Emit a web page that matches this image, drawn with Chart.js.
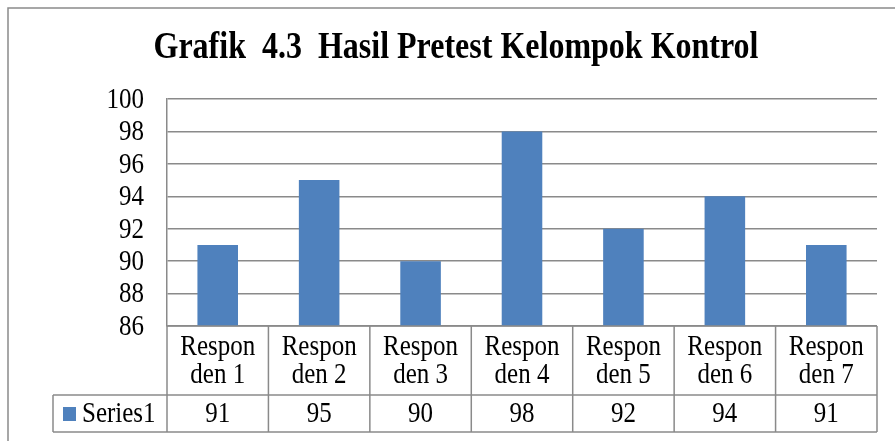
<!DOCTYPE html>
<html>
<head>
<meta charset="utf-8">
<script src="https://cdn.jsdelivr.net/npm/chart.js@4/dist/chart.umd.min.js"></script>
<style>
  html, body { margin: 0; padding: 0; background: #fff; }
  #wrap { width: 895px; height: 441px; position: relative; }
</style>
</head>
<body>
<div id="wrap"><canvas id="chart" width="895" height="441"></canvas></div>
<script>
// data
const categories = [['Respon', 'den 1'], ['Respon', 'den 2'], ['Respon', 'den 3'], ['Respon', 'den 4'], ['Respon', 'den 5'], ['Respon', 'den 6'], ['Respon', 'den 7']]
const series1 = [91, 95, 90, 98, 92, 94, 91]
const seriesName = 'Series1'
const yTicks = [86, 88, 90, 92, 94, 96, 98, 100]
const titleText = 'Grafik  4.3  Hasil Pretest Kelompok Kontrol'

const serif = '"Liberation Serif", "Times New Roman", serif'
const lineGray = '#8a8a8a'
const barBlue = '#4f81bd'
const stretch = 1.2 // the reference text is a bit taller than wide

// text drawn a little stretched vertically, centred on y
function tallText(ctx, text, x, y, font, align) {
  ctx.save()
  ctx.font = font
  ctx.textAlign = align
  ctx.textBaseline = 'middle'
  ctx.fillStyle = '#000'
  ctx.translate(x, y)
  ctx.scale(1, stretch)
  ctx.fillText(text, 0, 0)
  ctx.restore()
}

// frame, title, y labels and data table under the plot
const tablePlugin = {
  id: 'tablePlugin',
  beforeDraw(chart) {
    const ctx = chart.ctx
    ctx.save()
    ctx.fillStyle = '#fff'
    ctx.fillRect(0, 0, chart.width, chart.height)
    ctx.strokeStyle = lineGray
    ctx.lineWidth = 1.5
    ctx.strokeRect(8, 8, chart.width + 20, chart.height + 20)
    ctx.restore()
  },
  afterDraw(chart) {
    const ctx = chart.ctx
    const area = chart.chartArea
    const x = chart.scales.x
    const y = chart.scales.y
    const n = categories.length
    const colW = (area.right - area.left) / n
    const top = area.bottom
    const row1 = top + 69
    const row2 = row1 + 37
    const legendLeft = 53
    const font = '25px ' + serif

    tallText(ctx, titleText, 456, 48, 'bold 32px ' + serif, 'center')

    yTicks.forEach(v => {
      tallText(ctx, String(v), 144, y.getPixelForValue(v) + 1, font, 'right')
    })

    ctx.save()
    ctx.strokeStyle = lineGray
    ctx.lineWidth = 1.5
    ctx.beginPath()
    ctx.moveTo(area.left, top); ctx.lineTo(area.right, top)
    ctx.moveTo(legendLeft, row1); ctx.lineTo(area.right, row1)
    ctx.moveTo(legendLeft, row2); ctx.lineTo(area.right, row2)
    ctx.moveTo(legendLeft, row1); ctx.lineTo(legendLeft, row2)
    for (let i = 0; i <= n; i++) {
      const px = area.left + i * colW
      ctx.moveTo(px, top); ctx.lineTo(px, row2)
    }
    ctx.stroke()
    ctx.restore()

    categories.forEach((lab, i) => {
      const cx = x.getPixelForValue(i)
      tallText(ctx, lab[0], cx, top + 21, font, 'center')
      tallText(ctx, lab[1], cx, top + 49, font, 'center')
      tallText(ctx, String(series1[i]), cx, (row1 + row2) / 2 + 1, font, 'center')
    })

    // legend key
    ctx.save()
    ctx.fillStyle = barBlue
    ctx.fillRect(63, 407, 13, 14)
    ctx.restore()
    tallText(ctx, seriesName, 82, (row1 + row2) / 2 + 1, font, 'left')
  }
}

new Chart(document.getElementById('chart'), {
  type: 'bar',
  data: {
    labels: categories,
    datasets: [{
      label: seriesName,
      data: series1,
      backgroundColor: barBlue,
      borderWidth: 0,
      barPercentage: 0.4,
      categoryPercentage: 1.0
    }]
  },
  options: {
    responsive: false,
    animation: false,
    layout: { padding: { top: 99, right: 18, bottom: 115, left: 0 } },
    plugins: {
      legend: { display: false },
      title: { display: false },
      tooltip: { enabled: false }
    },
    scales: {
      x: { display: false },
      y: {
        min: 86,
        max: 100,
        afterFit(scale) { scale.width = 167 },
        afterBuildTicks(scale) { scale.ticks = yTicks.map(v => ({ value: v })) },
        grid: { color: lineGray, lineWidth: 1.5, drawTicks: false },
        border: { display: true, color: lineGray, width: 1.5 },
        ticks: { display: false, autoSkip: false }
      }
    }
  },
  plugins: [tablePlugin]
})
</script>
</body>
</html>
